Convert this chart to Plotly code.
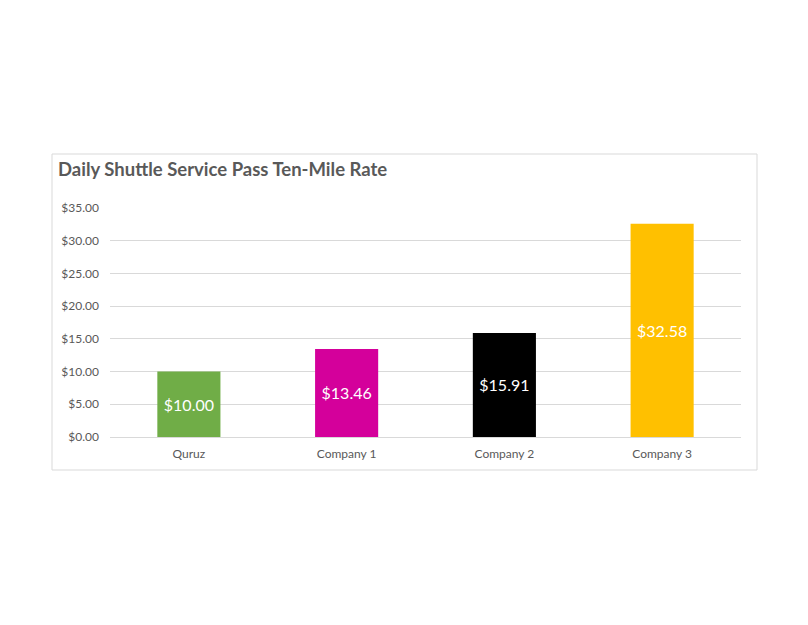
import plotly.graph_objects as go

categories = ["Quruz", "Company 1", "Company 2", "Company 3"]
values = [10.00, 13.46, 15.91, 32.58]
colors = ["#70AD47", "#D4009B", "#000000", "#FFC000"]
tick_vals = [0, 5, 10, 15, 20, 25, 30, 35]
tick_text = ["$%.2f" % v for v in tick_vals]

W, H = 808, 625
OFF = 8  # page body margin
L, T = 110 - OFF, 208 - OFF
pw, ph = 631, 229
R = W - L - pw
B = H - T - ph

def px_x(p):
    return (p - OFF - L) / pw

def px_y(p):
    return (H - B - (p - OFF)) / ph

fig = go.Figure(go.Bar(
    x=categories, y=values,
    marker=dict(color=colors, line=dict(width=0)),
    width=0.4,
    text=["$%.2f" % v for v in values],
    textposition="inside", insidetextanchor="middle",
    textfont=dict(color="white", size=16, family="Lato, Calibri, sans-serif"),
    textangle=0,
    hoverinfo="skip",
))

fig.update_layout(
    width=W, height=H,
    margin=dict(l=L, r=R, t=T, b=B),
    paper_bgcolor="white", plot_bgcolor="white",
    showlegend=False,
    font=dict(family="Lato, Calibri, sans-serif", color="#595959", size=12),
    title=dict(
        text="<b>Daily Shuttle Service Pass Ten-Mile Rate</b>",
        font=dict(size=18.5, color="#595959", family="Lato, Calibri, sans-serif"),
        x=(58 - OFF) / W, xref="container", xanchor="left",
        y=1 - (170 - OFF) / H, yref="container", yanchor="middle",
    ),
    xaxis=dict(showgrid=False, showline=False, ticks="", ticklabelstandoff=8,
               tickfont=dict(size=12, color="#595959")),
    yaxis=dict(range=[0, 35], tickvals=tick_vals, ticktext=tick_text,
               showgrid=True, gridcolor="#D9D9D9", gridwidth=1,
               zeroline=True, zerolinecolor="#D9D9D9", zerolinewidth=1,
               showline=False, ticks="", ticklabelstandoff=10,
               tickfont=dict(size=12, color="#595959")),
    shapes=[dict(type="rect", xref="paper", yref="paper",
                 x0=px_x(52), x1=px_x(757), y0=px_y(470), y1=px_y(154),
                 line=dict(color="#D9D9D9", width=1), fillcolor="rgba(0,0,0,0)",
                 layer="below")],
)

fig.write_html("out.html")
